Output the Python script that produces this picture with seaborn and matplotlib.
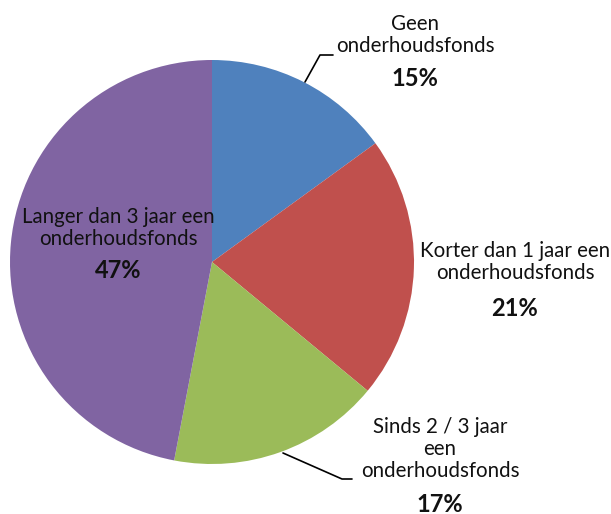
import matplotlib.pyplot as plt
import seaborn as sns

# data
labels = ['Geen\nonderhoudsfonds', 'Korter dan 1 jaar een\nonderhoudsfonds',
          'Sinds 2 / 3 jaar\neen\nonderhoudsfonds', 'Langer dan 3 jaar een\nonderhoudsfonds']
values = [15, 21, 17, 47]
colors = ['#4F81BD', '#C0504D', '#9BBB59', '#8064A2']

sns.set_style('white')
plt.rcParams['font.family'] = ['Lato', 'DejaVu Sans']

W, H = 611, 514
cx, cy, R = 212, 262, 202

def px(x, y):
    return (x - cx) / R, (cy - y) / R

fig = plt.figure(figsize=(W / 100, H / 100), dpi=100)
ax = fig.add_axes([0, 0, 1, 1])
ax.pie(values, colors=colors, startangle=90, counterclock=False, radius=1,
       wedgeprops=dict(linewidth=0))
ax.set_xlim(-cx / R, (W - cx) / R)
ax.set_ylim((cy - H) / R, cy / R)
ax.set_aspect('auto')
ax.axis('off')

# label anchors (pixel centre of text block, y of label block centre, y of percent)
pos = [(415, 35, 79), (515, 262, 308), (440, 449, 504), (118, 228, 270)]
for lab, v, (x, yl, yp) in zip(labels, values, pos):
    ax.text(*px(x, yl), lab, ha='center', va='center', fontsize=14.8,
            linespacing=1.15, color='#111111')
    ax.text(*px(x, yp), f'{v}%', ha='center', va='center', fontsize=17,
            fontweight='bold', color='#111111')

# leader lines
for pts in [[(305, 82), (320, 55), (333, 55)], [(283, 453), (342, 479), (352, 479)]]:
    xs, ys = zip(*[px(*p) for p in pts])
    ax.plot(xs, ys, color='black', lw=1.2)

fig.savefig('out.png', dpi=100)
